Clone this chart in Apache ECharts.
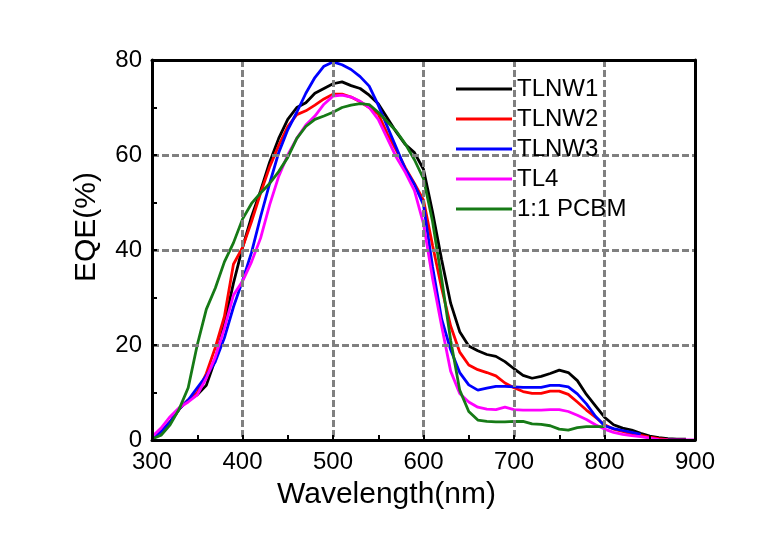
<!DOCTYPE html>
<html>
<head>
<meta charset="utf-8">
<script src="https://cdn.jsdelivr.net/npm/echarts@6/dist/echarts.min.js"></script>
<style>html,body{margin:0;padding:0;background:#fff;}#c{width:773px;height:539px;}</style>
</head>
<body>
<div id="c"></div>
<script>
const wavelengths = [300,310,320,330,340,350,360,370,380,390,400,410,420,430,440,450,460,470,480,490,500,510,520,530,540,550,560,570,580,590,600,610,620,630,640,650,660,670,680,690,700,710,720,730,740,750,760,770,780,790,800,810,820,830,840,850,860,870,880,890,900];
const seriesNames = ['TLNW1','TLNW2','TLNW3','TL4','1:1 PCBM'];
const tlnw1 = [0.3,1.8,3.8,6.5,8.4,9.5,11.5,17,24.5,33,40.5,47,52.5,58.5,63.5,67.5,70,71,73,74,75,75.4,74.6,74,72.6,70.8,67.8,64.8,62.2,60.5,57,48,38,28.8,22.8,19.8,18.8,18,17.6,16.5,15,13.6,13,13.4,14,14.7,14.2,12.5,9.6,7.2,4.8,3.2,2.5,2.1,1.4,0.8,0.5,0.3,0.2,0.2];
const tlnw2 = [0.3,1.8,3.8,6.5,8.4,10,14,19.5,26,37,40.5,46,52,57.5,62,66,68.5,69.3,70.5,71.8,72.8,72.8,72.2,71.2,70,68.6,64.5,61,57.3,54,50.5,41,32,24,18.5,15.8,14.8,14.2,13.5,12,11,10.2,9.8,9.8,10.3,10.3,9.6,8,6.3,4.8,3.2,2.3,1.8,1.3,1,0.6,0.3,0.1];
const tlnw3 = [0.3,1.8,3.8,6.5,8.4,11,13.5,16.5,21.5,28,33.5,39.5,47,54,60.5,65.3,69,73,76.3,78.7,79.6,79,78,76.5,74.5,70.5,66,61.5,57,53.8,49.5,36.5,25.5,19,14.2,11.6,10.5,10.9,11.3,11.3,11.2,11.1,11.1,11.1,11.5,11.5,11.2,9.7,7.6,5,3,2.4,2,1.6,1.2];
const tl4 = [0.7,2.5,4.9,6.8,8,9.5,13,17.5,23.5,30.5,33.4,37.5,42.5,49.5,55.5,60,63.5,66.3,68.2,70.7,72.4,72.6,72.2,71.3,70,67.5,63.5,59.5,56.3,52.5,45.5,34,24,14.5,9.8,8,6.9,6.5,6.4,6.9,6.4,6.3,6.3,6.3,6.4,6.4,6,5.2,4.3,3.2,2.3,1.6,1.2,0.9,0.7,0.4,0.1,0,0,0,0];
const pcbm = [0.2,1,3.2,6.5,11,20,27.5,32,37.5,41.5,46.5,49.8,52,54,56.5,59.5,63.5,66,67.5,68.2,69,70,70.5,70.8,70.6,69,67,65,62.3,59,55,46,34,21,10.5,6,4.2,3.9,3.8,3.8,3.9,3.9,3.4,3.3,3,2.3,2.1,2.6,2.8,2.8,2.8];
const xTicks = {min:300,max:900,interval:100};
const yTicks = {min:0,max:80,interval:20};

const colors = ['#000000','#ff0000','#0000ff','#ff00ff','#167a16'];
const allValues = [tlnw1,tlnw2,tlnw3,tl4,pcbm];
const font = 'Arial, "Liberation Sans", sans-serif';

function pairs(vals){ return vals.map((v,i)=>[wavelengths[i], v]); }

const frameAxis = {
  axisLine:{show:true,onZero:false,lineStyle:{color:'#000',width:3}},
  axisTick:{show:false}, axisLabel:{show:false}, splitLine:{show:false}, minorTick:{show:false}
};

const chart = echarts.init(document.getElementById('c'), null, {renderer:'canvas'});
chart.setOption({
  animation:false,
  backgroundColor:'#fff',
  grid:{left:152,right:78,top:60,bottom:99},
  legend:{
    orient:'vertical', left:456, top:77, padding:0,
    icon:'rect', itemWidth:56, itemHeight:3, itemGap:6,
    textStyle:{fontSize:24,color:'#000',fontFamily:font},
    data:seriesNames
  },
  xAxis:[{
    type:'value', min:xTicks.min, max:xTicks.max, interval:xTicks.interval,
    name:'Wavelength(nm)', nameLocation:'middle', nameGap:40,
    nameTextStyle:{fontSize:30,color:'#000',fontFamily:font,padding:[0,74,0,0]},
    axisLine:{show:true,onZero:false,lineStyle:{color:'#000',width:3}},
    axisTick:{show:true,inside:true,length:5,lineStyle:{color:'#000',width:2}},
    minorTick:{show:true,splitNumber:2,length:5,lineStyle:{color:'#000',width:2}},
    axisLabel:{fontSize:24,color:'#000',fontFamily:font,margin:10},
    splitLine:{show:true,lineStyle:{color:'#808080',width:3,type:[7,3]}},
    z:3
  },Object.assign({type:'value',position:'top',min:xTicks.min,max:xTicks.max,interval:xTicks.interval,z:3},frameAxis)],
  yAxis:[{
    type:'value', min:yTicks.min, max:yTicks.max, interval:yTicks.interval,
    name:'EQE(%)', nameLocation:'middle', nameGap:50,
    nameTextStyle:{fontSize:30,color:'#000',fontFamily:font,padding:[0,0,0,46]},
    axisLine:{show:true,onZero:false,lineStyle:{color:'#000',width:3}},
    axisTick:{show:true,inside:true,length:5,lineStyle:{color:'#000',width:2}},
    minorTick:{show:true,splitNumber:2,length:5,lineStyle:{color:'#000',width:2}},
    axisLabel:{fontSize:24,color:'#000',fontFamily:font,margin:10},
    splitLine:{show:true,lineStyle:{color:'#808080',width:3,type:[7,3]}},
    z:3
  },Object.assign({type:'value',position:'right',min:yTicks.min,max:yTicks.max,interval:yTicks.interval,z:3},frameAxis)],
  series: seriesNames.map((n,i)=>({
    name:n, type:'line', data:pairs(allValues[i]), showSymbol:false, symbol:'none',
    xAxisIndex:0, yAxisIndex:0,
    color:colors[i], lineStyle:{color:colors[i],width:2.8}, z:2
  }))
});
</script>
</body>
</html>
